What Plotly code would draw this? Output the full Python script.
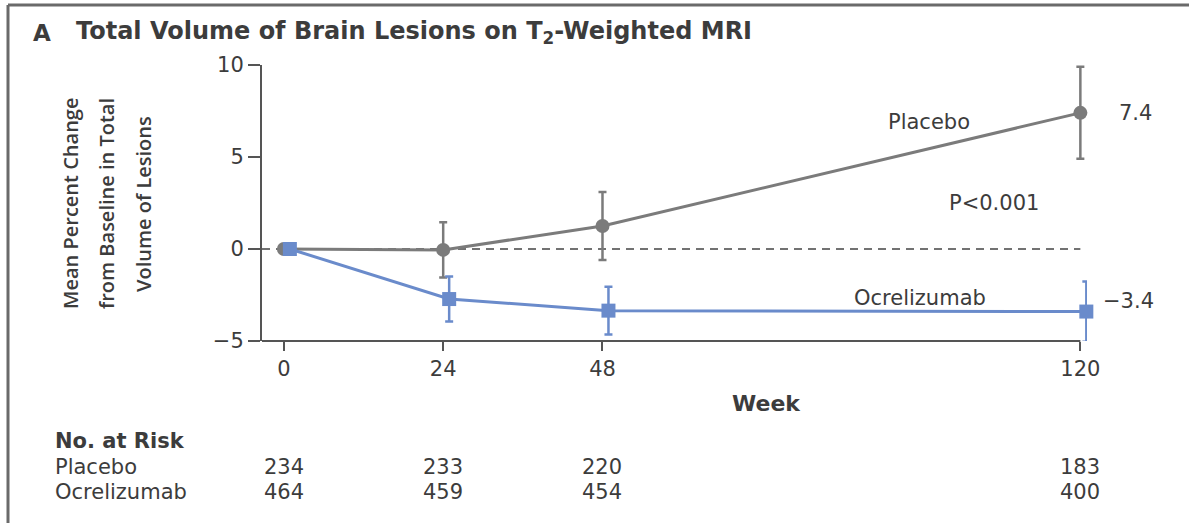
import plotly.graph_objects as go

# Trial data: mean percent change in total T2 lesion volume
weeks = [0, 24, 48, 120]
placebo_mean = [0.0, -0.05, 1.25, 7.4]
placebo_err = [0.0, 1.5, 1.85, 2.5]
ocrel_mean = [0.0, -2.72, -3.35, -3.4]
ocrel_err = [0.0, 1.22, 1.3, 1.64]

risk_placebo = [234, 233, 220, 183]
risk_ocrel = [464, 459, 454, 400]

y_ticks = [-5, 0, 5, 10]
y_tick_text = ["\u22125", "0", "5", "10"]

# horizontal dodge (in weeks) so the two series' error bars don't overlap
DODGE = 0.9
X_MIN, X_MAX = -3.3, 121.0

W, H = 1189, 523
L, R, T, B = 262, 1087, 65, 341

GREY = "#7b7b7b"
BLUE = "#6a8bcb"
TEXT = "#3c3c3c"
AXIS = "#555555"
FONT = "DejaVu Sans"


def px_x(px):
    return (px - L) / (R - L)


def px_y(py):
    return (B - py) / (B - T)


fig = go.Figure()

fig.add_trace(go.Scatter(
    x=weeks, y=placebo_mean, mode="lines+markers", name="Placebo",
    line=dict(color=GREY, width=3),
    marker=dict(symbol="circle", size=14, color=GREY),
    error_y=dict(type="data", array=placebo_err, visible=True,
                 color=GREY, thickness=2.5, width=4),
    cliponaxis=False,
))

fig.add_trace(go.Scatter(
    x=[w + DODGE for w in weeks], y=ocrel_mean, mode="lines+markers",
    name="Ocrelizumab",
    line=dict(color=BLUE, width=3),
    marker=dict(symbol="square", size=14, color=BLUE),
    error_y=dict(type="data", array=ocrel_err, visible=True,
                 color=BLUE, thickness=2.5, width=4),
    cliponaxis=False,
))

# zero reference line, ending at the last visit
fig.add_shape(type="line", xref="x", yref="y", x0=X_MIN, x1=weeks[-1],
              y0=0, y1=0, line=dict(color="#444444", width=1.5, dash="8px,6px"),
              layer="below")

# x-axis baseline, ending at the last visit
fig.add_shape(type="line", xref="x", yref="paper", x0=X_MIN, x1=weeks[-1],
              y0=0, y1=0, line=dict(color=AXIS, width=2), layer="below")

# figure frame (top and left rules)
frame = dict(color="#6a6a6a", width=3)
fig.add_shape(type="line", xref="paper", yref="paper",
              x0=px_x(8), x1=px_x(W + 5), y0=px_y(5), y1=px_y(5), line=frame)
fig.add_shape(type="line", xref="paper", yref="paper",
              x0=px_x(8), x1=px_x(8), y0=px_y(5), y1=px_y(H + 5), line=frame)

ann = []


def text(x, y, s, size=21, bold=False, xanchor="center", xref="paper",
         yref="paper", angle=0, font=FONT, weight=None):
    f = dict(family=font, size=size, color=TEXT)
    if weight:
        f["weight"] = weight
    ann.append(dict(
        x=x, y=y, xref=xref, yref=yref, text=f"<b>{s}</b>" if bold else s,
        showarrow=False, xanchor=xanchor, yanchor="middle", textangle=angle,
        font=f,
    ))


# panel title
text(px_x(31), px_y(33), "A", size=23, bold=True, xanchor="left")
text(px_x(74), px_y(33), "Total Volume of Brain Lesions on T<sub>2</sub>-Weighted MRI",
     size=24, bold=True, xanchor="left")

# y-axis title, one line per annotation for wider line spacing
for xp, line in zip([70, 106, 143],
                    ["Mean Percent Change", "from Baseline in Total",
                     "Volume of Lesions"]):
    text(px_x(xp), px_y(204), line, size=20, angle=-90, font="Open Sans",
         weight=600)

# in-plot labels
text(px_x(929), px_y(122), "Placebo")
text(px_x(1135), px_y(113), "7.4")
text(px_x(994), px_y(203), "P<0.001")
text(px_x(920), px_y(298), "Ocrelizumab")
text(px_x(1128), px_y(301), "\u22123.4")
text(px_x(766), px_y(403), "Week", size=22, bold=True)

# number at risk table
text(px_x(53), px_y(441), "No. at Risk", size=21, bold=True, xanchor="left")
text(px_x(53), px_y(467), "Placebo", xanchor="left")
text(px_x(53), px_y(492), "Ocrelizumab", xanchor="left")
for w, p, o in zip(weeks, risk_placebo, risk_ocrel):
    text(w, px_y(467), str(p), xref="x")
    text(w, px_y(492), str(o), xref="x")

fig.update_layout(
    width=W, height=H,
    margin=dict(l=L, r=W - R, t=T, b=H - B, pad=0),
    paper_bgcolor="white", plot_bgcolor="white",
    showlegend=False,
    annotations=ann,
    xaxis=dict(
        range=[X_MIN, X_MAX], tickvals=weeks, ticktext=[str(w) for w in weeks],
        ticks="outside", ticklen=9, tickwidth=2, tickcolor=AXIS,
        showline=False, showgrid=False, zeroline=False,
        tickfont=dict(family=FONT, size=21, color=TEXT),
    ),
    yaxis=dict(
        range=[-5, 10], tickvals=y_ticks, ticktext=y_tick_text,
        ticks="outside", ticklen=12, tickwidth=2, tickcolor=AXIS,
        showline=True, linecolor=AXIS, linewidth=2,
        showgrid=False, zeroline=False,
        tickfont=dict(family=FONT, size=21, color=TEXT),
    ),
)

fig.write_html("out.html")
